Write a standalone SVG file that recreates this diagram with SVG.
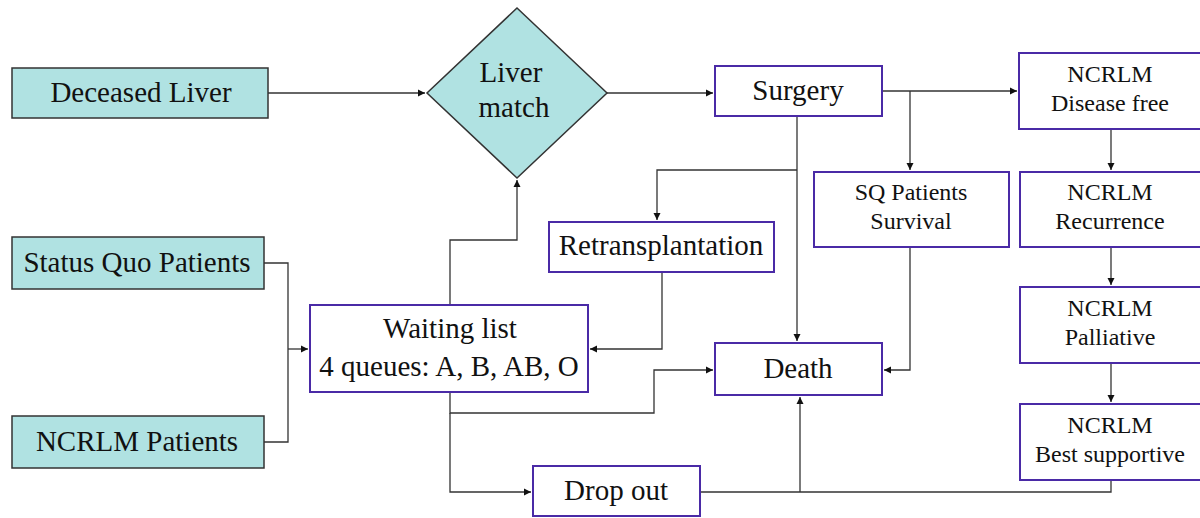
<svg xmlns="http://www.w3.org/2000/svg" width="1200" height="518" viewBox="0 0 1200 518">
<defs>
<marker id="ah" markerWidth="8" markerHeight="8" refX="7" refY="4" orient="auto" markerUnits="userSpaceOnUse">
<path d="M0,0.5 L7,4 L0,7.5 Z" fill="#111"/>
</marker>
<style>
.src{fill:#b0e2e2;stroke:#333;stroke-width:1.5}
.box{fill:#fff;stroke:#4a2aa6;stroke-width:2}
.t{fill:#111;text-anchor:middle;font-size:29px}
.s{font-size:24px}
.c{fill:none;stroke:#333;stroke-width:1.3}
</style>
</defs>
<rect width="1200" height="518" fill="#fff"/>
<g id="connectors">
<path class="c" d="M268,93 H425" marker-end="url(#ah)"/>
<path class="c" d="M607,93 H713" marker-end="url(#ah)"/>
<path class="c" d="M882,91 H1017" marker-end="url(#ah)"/>
<path class="c" d="M910,91 V170" marker-end="url(#ah)"/>
<path class="c" d="M797,116 V341" marker-end="url(#ah)"/>
<path class="c" d="M797,170 H657 V220" marker-end="url(#ah)"/>
<path class="c" d="M662,272 V349 H590" marker-end="url(#ah)"/>
<path class="c" d="M450,305 V240 H517 V180" marker-end="url(#ah)"/>
<path class="c" d="M264,263 H288 V442 H264"/>
<path class="c" d="M288,349 H308" marker-end="url(#ah)"/>
<path class="c" d="M450,392 V413 H654 V370 H713" marker-end="url(#ah)"/>
<path class="c" d="M450,413 V492 H531" marker-end="url(#ah)"/>
<path class="c" d="M700,492 H1111 V480"/>
<path class="c" d="M800,492 V397" marker-end="url(#ah)"/>
<path class="c" d="M910,247 V370 H884" marker-end="url(#ah)"/>
<path class="c" d="M1111,129 V170" marker-end="url(#ah)"/>
<path class="c" d="M1111,247 V285" marker-end="url(#ah)"/>
<path class="c" d="M1111,363 V402" marker-end="url(#ah)"/>
</g>
<g font-family="'Liberation Serif', 'Times New Roman', serif">
<g id="deceased-liver">
<rect class="src" x="12" y="68" width="256" height="50"/>
<text class="t" x="141" y="102">Deceased Liver</text>
</g>
<g id="liver-match">
<polygon class="src" points="517,8 607,93 517,178 427,93"/>
<text class="t" x="511" y="82">Liver</text>
<text class="t" x="514" y="117">match</text>
</g>
<g id="surgery">
<rect class="box" x="715" y="66" width="167" height="50"/>
<text class="t" x="798" y="100">Surgery</text>
</g>
<g id="ncrlm-disease-free">
<rect class="box" x="1019" y="53" width="190" height="76"/>
<text class="t s" x="1110" y="82">NCRLM</text>
<text class="t s" x="1110" y="111">Disease free</text>
</g>
<g id="sq-survival">
<rect class="box" x="814" y="172" width="195" height="75"/>
<text class="t s" x="911" y="200">SQ Patients</text>
<text class="t s" x="911" y="229">Survival</text>
</g>
<g id="ncrlm-recurrence">
<rect class="box" x="1020" y="172" width="190" height="75"/>
<text class="t s" x="1110" y="200">NCRLM</text>
<text class="t s" x="1110" y="229">Recurrence</text>
</g>
<g id="ncrlm-palliative">
<rect class="box" x="1020" y="287" width="190" height="76"/>
<text class="t s" x="1110" y="316">NCRLM</text>
<text class="t s" x="1110" y="345">Palliative</text>
</g>
<g id="ncrlm-best-supportive">
<rect class="box" x="1020" y="404" width="190" height="76"/>
<text class="t s" x="1110" y="433">NCRLM</text>
<text class="t s" x="1110" y="462">Best supportive</text>
</g>
<g id="retransplantation">
<rect class="box" x="549" y="222" width="225" height="50"/>
<text class="t" x="661" y="255">Retransplantation</text>
</g>
<g id="status-quo">
<rect class="src" x="12" y="237" width="252" height="52"/>
<text class="t" x="137" y="272">Status Quo Patients</text>
</g>
<g id="ncrlm-patients">
<rect class="src" x="12" y="416" width="252" height="52"/>
<text class="t" x="137" y="451">NCRLM Patients</text>
</g>
<g id="waiting-list">
<rect class="box" x="310" y="305" width="278" height="87"/>
<text class="t" x="450" y="338">Waiting list</text>
<text class="t" x="449" y="376">4 queues: A, B, AB, O</text>
</g>
<g id="death">
<rect class="box" x="715" y="343" width="167" height="52"/>
<text class="t" x="798" y="378">Death</text>
</g>
<g id="drop-out">
<rect class="box" x="533" y="466" width="167" height="50"/>
<text class="t" x="616" y="500">Drop out</text>
</g>
</g>
</svg>
